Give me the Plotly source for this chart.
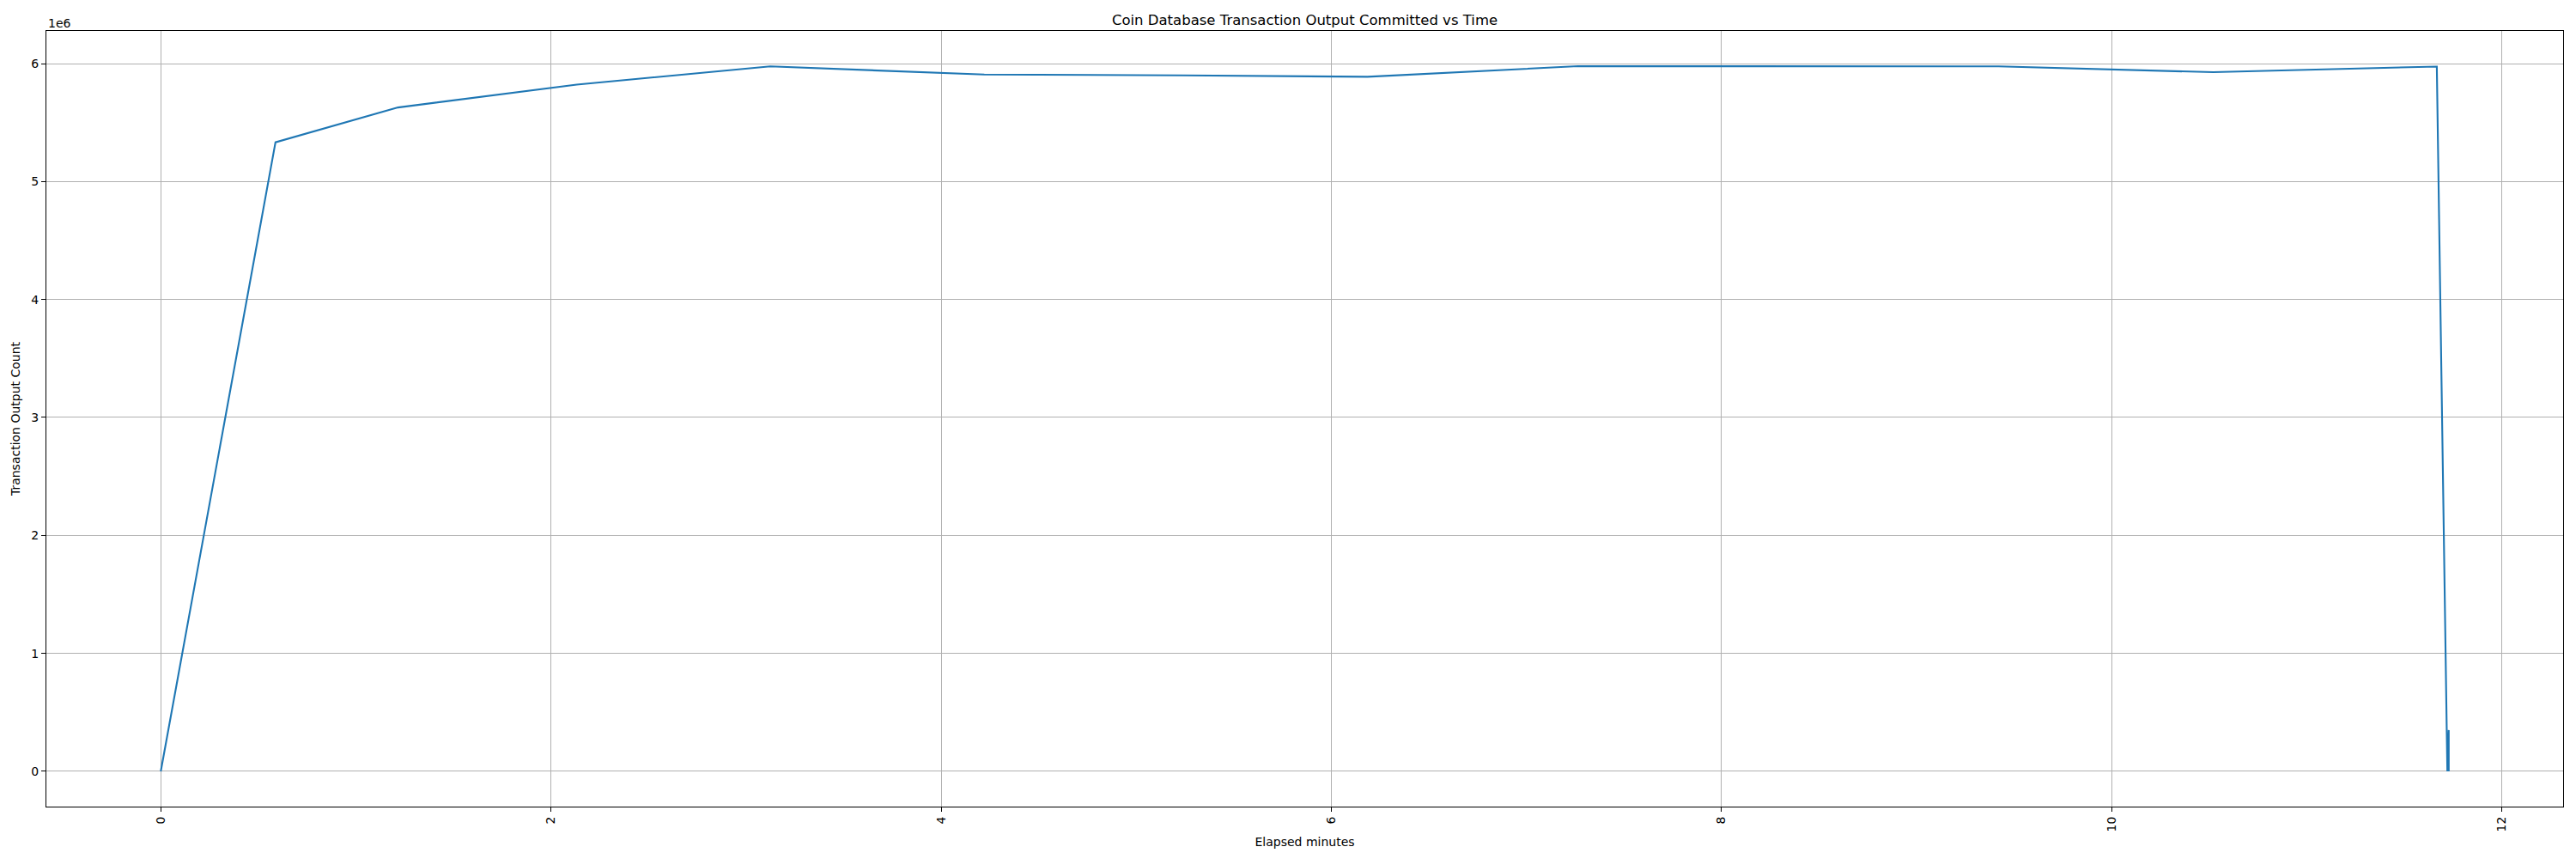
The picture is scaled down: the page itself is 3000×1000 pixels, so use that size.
import plotly.graph_objects as go

# Data (elapsed minutes, transaction output count)
elapsed_minutes = [0.0, 0.588, 1.216, 2.132, 3.124, 4.221, 5.24, 6.185, 7.264, 8.30, 9.42, 10.52, 11.666, 11.720, 11.727, 11.727]
output_count = [0, 5333000, 5628000, 5822000, 5976000, 5907000, 5900000, 5888000, 5978000, 5977000, 5976000, 5927000, 5975000, 0, 350000, 0]

x_ticks = [0, 2, 4, 6, 8, 10, 12]
y_ticks = [0, 1e6, 2e6, 3e6, 4e6, 5e6, 6e6]
y_tick_labels = ["0", "1", "2", "3", "4", "5", "6"]

title_text = "Coin Database Transaction Output Committed vs Time"
x_label = "Elapsed minutes"
y_label = "Transaction Output Count"
offset_text = "1e6"

FONT = "DejaVu Sans"

xmin, xmax = min(elapsed_minutes), max(elapsed_minutes)
ymin, ymax = min(output_count), max(output_count)
xpad = (xmax - xmin) * 0.05
ypad = (ymax - ymin) * 0.05

fig = go.Figure()
fig.add_trace(go.Scatter(
    x=elapsed_minutes, y=output_count, mode="lines",
    line=dict(color="#1f77b4", width=2.1),
    showlegend=False, hoverinfo="x+y",
))

axis_common = dict(
    showline=True, linecolor="black", linewidth=1.1, mirror=True,
    ticks="outside", ticklen=5, tickwidth=1.1, tickcolor="black",
    showgrid=True, gridcolor="#b0b0b0", gridwidth=1.1,
    zeroline=False,
    tickfont=dict(family=FONT, size=14, color="black"),
)

fig.update_layout(
    width=2984, height=984,
    paper_bgcolor="white", plot_bgcolor="white",
    margin=dict(l=46, r=7, t=28, b=53, autoexpand=False),
    font=dict(family=FONT, color="black"),
    title=dict(text=title_text, x=0.5, xref="paper", xanchor="center",
               y=1, yref="paper", yanchor="bottom", pad=dict(b=7),
               font=dict(family=FONT, size=16.5, color="black")),
    xaxis=dict(range=[xmin - xpad, xmax + xpad], tickvals=x_ticks, tickangle=-90,
               title=dict(text=x_label, font=dict(family=FONT, size=14, color="black"), standoff=7),
               **axis_common),
    yaxis=dict(range=[ymin - ypad, ymax + ypad], tickvals=y_ticks, ticktext=y_tick_labels,
               title=dict(text=y_label, font=dict(family=FONT, size=14, color="black"), standoff=9),
               **axis_common),
    annotations=[dict(text=offset_text, xref="paper", yref="paper", x=0, y=1,
                      xanchor="left", yanchor="bottom", yshift=-1, showarrow=False,
                      font=dict(family=FONT, size=14, color="black"))],
)

fig.write_html("out.html")
